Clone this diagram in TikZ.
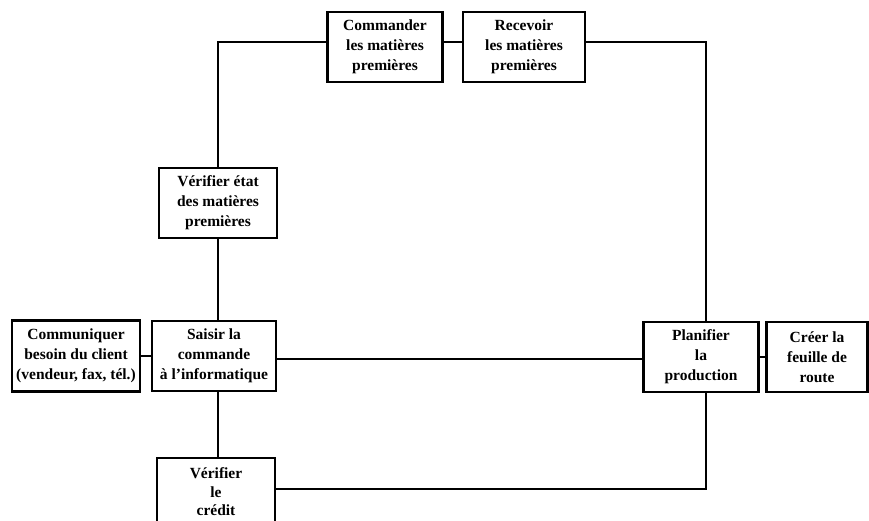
\documentclass[tikz,border=0pt]{standalone}
\usepackage{fontspec}
\setmainfont{Liberation Serif}
\begin{document}
\begin{tikzpicture}[x=1pt,y=-1pt,
  box/.style={draw,line width=2.2pt,align=center,inner sep=0pt,
    font=\fontsize{15.5}{20}\selectfont\bfseries},
  link/.style={line width=2.6pt}]
\useasboundingbox (0,0) rectangle (869,521);
\begin{scope}
\clip (0,0) rectangle (869,521);
% process steps
\node[box,minimum width=128,minimum height=71] (comm) at (76,356) {Communiquer\\besoin du client\\(vendeur, fax, tél.)};
\node[box,minimum width=124,minimum height=70] (saisir) at (214,356) {Saisir la\\commande\\à l'informatique};
\node[box,minimum width=118,minimum height=70] (vetat) at (218,203) {Vérifier état\\des matières\\premières};
\node[box,minimum width=115,minimum height=70] (cmdr) at (385,47) {Commander\\les matières\\premières};
\node[box,minimum width=122,minimum height=70] (recv) at (524,47) {Recevoir\\les matières\\premières};
\node[box,minimum width=115,minimum height=70] (plan) at (701,357) {Planifier\\la\\production};
\node[box,minimum width=101,minimum height=70] (creer) at (817,357) {Créer la\\feuille de\\route};
\node[box,minimum width=118,minimum height=74,font=\fontsize{15.5}{18.5}\selectfont\bfseries,
  text depth=6pt] (credit) at (216,495) {Vérifier\\le\\crédit};
% flow links
\coordinate (trunk) at ([xshift=4]saisir.north);
\draw[link] (comm.east) -- (saisir.west);
\draw[link] (trunk) -- (trunk |- vetat.south);
\draw[link] (trunk |- vetat.north) |- ([yshift=5]cmdr.west);
\draw[link] ([yshift=5]cmdr.east) -- ([yshift=5]recv.west);
\draw[link] ([yshift=5]recv.east) -| ([xshift=5]plan.north);
\draw[link] ([yshift=-3]saisir.east) -- ([yshift=-3]saisir.east -| plan.west);
\draw[link] (trunk |- saisir.south) -- (trunk |- credit.north);
\draw[link] ([yshift=6]credit.east) -| ([xshift=5]plan.south);
\draw[link] (plan.east) -- (creer.west);
\end{scope}
\end{tikzpicture}
\end{document}
